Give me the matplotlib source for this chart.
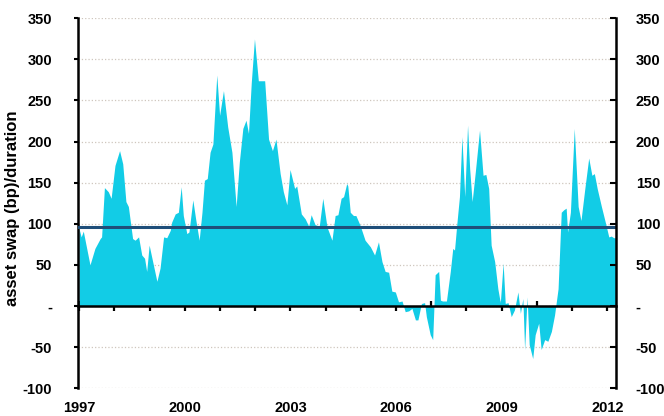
import matplotlib
matplotlib.use('Agg')
import matplotlib.pyplot as plt
import numpy as np

plt.rcParams['font.family'] = ['Liberation Sans', 'DejaVu Sans']

# dates as decimal years, values in bp/duration
dates = [
    1997.00, 1997.06, 1997.12, 1997.31, 1997.45, 1997.60, 1997.64, 1997.72, 1997.83, 1997.91,
    1998.02, 1998.15, 1998.24, 1998.33, 1998.40, 1998.52, 1998.59, 1998.69, 1998.78, 1998.86,
    1998.92, 1998.99, 1999.21, 1999.30, 1999.40, 1999.49, 1999.59, 1999.63, 1999.73, 1999.82,
    1999.90, 1999.96, 2000.06, 2000.12, 2000.23, 2000.31, 2000.41, 2000.49, 2000.56, 2000.64,
    2000.72, 2000.80, 2000.91, 2000.99, 2001.10, 2001.22, 2001.34, 2001.46, 2001.55, 2001.65,
    2001.74, 2001.81, 2001.89, 2001.98, 2002.09, 2002.27, 2002.38, 2002.49, 2002.59, 2002.71,
    2002.80, 2002.90, 2002.99, 2003.12, 2003.18, 2003.31, 2003.42, 2003.52, 2003.59, 2003.70,
    2003.82, 2003.92, 2004.04, 2004.18, 2004.27, 2004.35, 2004.44, 2004.51, 2004.60, 2004.63,
    2004.70, 2004.79, 2004.86, 2004.98, 2005.12, 2005.27, 2005.39, 2005.50, 2005.60, 2005.69,
    2005.79, 2005.88, 2005.98, 2006.07, 2006.17, 2006.26, 2006.36, 2006.45, 2006.55, 2006.62,
    2006.72, 2006.81, 2006.86, 2006.97, 2007.04, 2007.11, 2007.21, 2007.26, 2007.32, 2007.43,
    2007.54, 2007.61, 2007.66, 2007.73, 2007.80, 2007.87, 2007.95, 2008.03, 2008.09, 2008.16,
    2008.25, 2008.37, 2008.47, 2008.55, 2008.63, 2008.70, 2008.80, 2008.89, 2008.96, 2009.04,
    2009.10, 2009.18, 2009.27, 2009.36, 2009.46, 2009.53, 2009.60, 2009.65, 2009.72, 2009.78,
    2009.88, 2009.95, 2010.05, 2010.12, 2010.22, 2010.31, 2010.41, 2010.50, 2010.60, 2010.69,
    2010.76, 2010.83, 2010.87, 2010.95, 2011.06, 2011.17, 2011.25, 2011.36, 2011.47, 2011.56,
    2011.63, 2011.71, 2011.83, 2011.94, 2012.04, 2012.11, 2012.18, 2012.25,
]
values = [
    94, 84, 91, 50, 70, 82, 84, 144, 139, 131,
    171, 189, 173, 127, 121, 82, 80, 84, 62, 58,
    42, 74, 30, 46, 84, 83, 92, 102, 112, 114,
    145, 110, 88, 90, 129, 106, 80, 114, 153, 155,
    187, 197, 281, 232, 262, 218, 187, 121, 175, 216,
    226, 210, 272, 325, 274, 274, 203, 189, 203, 161,
    139, 123, 166, 143, 146, 112, 106, 97, 111, 99,
    97, 131, 96, 80, 110, 111, 131, 133, 149, 146,
    114, 110, 110, 98, 80, 72, 62, 78, 54, 42,
    41, 18, 17, 5, 6, -7, -6, -3, -17, -17,
    3, 4, -13, -35, -41, 38, 42, 7, 6, 6,
    42, 70, 68, 102, 133, 206, 133, 220, 167, 127,
    163, 214, 159, 160, 143, 74, 54, 21, 4, 52,
    3, 4, -13, -5, 17, -9, 9, -53, 11, -47,
    -64, -35, -21, -53, -41, -43, -31, -11, 21, 114,
    117, 119, 90, 114, 216, 121, 104, 143, 180, 159,
    161, 143, 121, 102, 84, 85, 83, 83,
]
average = 96

y_ticks = [-100, -50, 0, 50, 100, 150, 200, 250, 300, 350]
y_labels = ['-100', '-50', '-', '50', '100', '150', '200', '250', '300', '350']
year_labels = [1997, 2000, 2003, 2006, 2009, 2012]

fig = plt.figure(figsize=(6.64, 4.16), dpi=100)
ax = fig.add_axes([0.118, 0.067, 0.810, 0.889])

ax.fill_between(dates, 0, values, color='#12cce6', linewidth=0, zorder=2)
ax.axhline(average, color='#1f4e79', lw=2.2, zorder=3)

ax.set_xlim(1996.98, 2012.25)
ax.set_ylim(-100, 350)

# grid
ax.set_yticks(y_ticks)
ax.set_yticklabels(y_labels)
ax.grid(axis='y', linestyle=':', color='#cfc6bd', lw=0.9, zorder=1)
ax.set_axisbelow(True)

# x-axis sits on the zero line, year labels at the bottom
ax.spines['bottom'].set_position(('data', 0))
ax.spines['bottom'].set_linewidth(1.8)
ax.spines['bottom'].set_zorder(4)
ax.spines['top'].set_visible(False)
ax.spines['right'].set_visible(False)
ax.spines['left'].set_linewidth(1.8)
ax.set_xticks(range(1997, 2013))
ax.tick_params(axis='x', direction='inout', length=7, width=1.6, labelbottom=False)
ax.tick_params(axis='y', direction='out', length=3, width=1.5, pad=16,
               labelsize=10.5)
for lab in ax.get_yticklabels():
    lab.set_fontweight('bold')

sec = ax.secondary_xaxis('bottom')
sec.spines['bottom'].set_visible(False)
sec.set_xticks(year_labels)
sec.tick_params(length=0, pad=9, labelsize=10.5)
for lab in sec.get_xticklabels():
    lab.set_fontweight('bold')

ax2 = ax.twinx()
ax2.set_ylim(-100, 350)
ax2.set_yticks(y_ticks)
ax2.set_yticklabels(y_labels)
for s in ['top', 'left', 'bottom']:
    ax2.spines[s].set_visible(False)
ax2.spines['right'].set_linewidth(1.8)
ax2.tick_params(axis='y', direction='in', length=4, width=1.5, pad=14, labelsize=10.5)
for lab in ax2.get_yticklabels():
    lab.set_fontweight('bold')

ax.set_ylabel('asset swap (bp)/duration', fontsize=12, fontweight='bold')
ax.yaxis.set_label_coords(-0.108, 0.487)

fig.savefig('out.png', dpi=100)
